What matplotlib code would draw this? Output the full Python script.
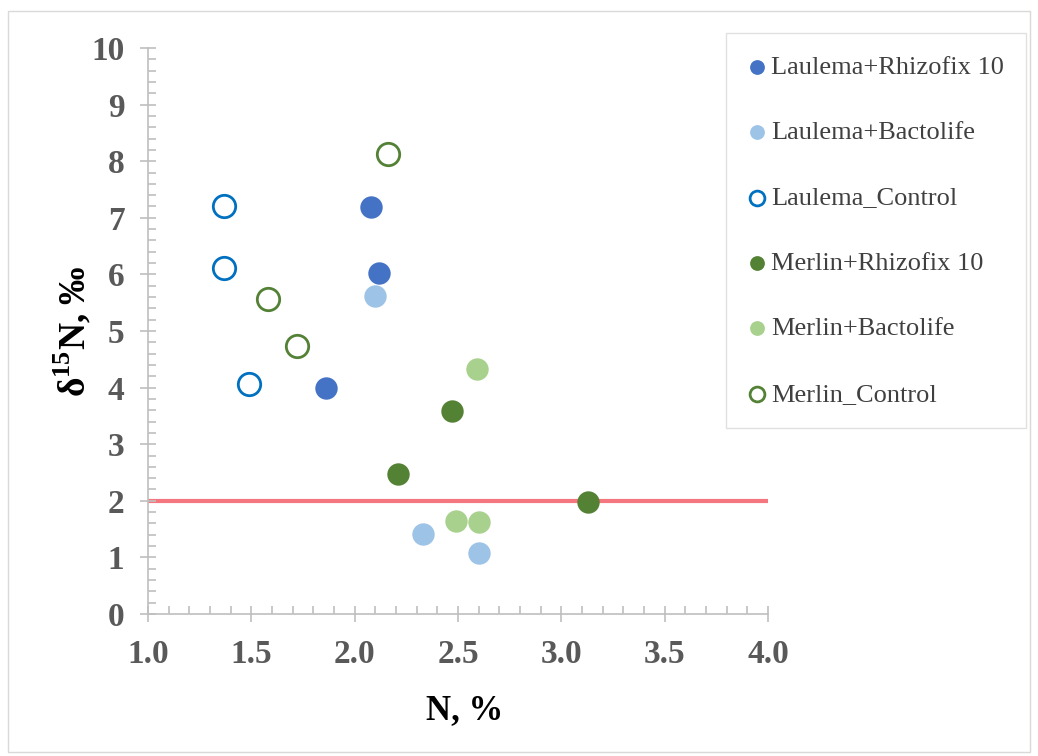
import matplotlib
matplotlib.use("Agg")
import matplotlib.pyplot as plt
from matplotlib.ticker import MultipleLocator
from matplotlib.patches import Rectangle

plt.rcParams['font.family'] = ['Liberation Serif', 'DejaVu Serif']
plt.rcParams['mathtext.fontset'] = 'custom'
plt.rcParams['mathtext.bf'] = 'Liberation Serif:bold'

# series: (label, N %, d15N, fill colour, edge colour)
labels = ["Laulema+Rhizofix 10", "Laulema+Bactolife", "Laulema_Control",
          "Merlin+Rhizofix 10", "Merlin+Bactolife", "Merlin_Control"]
x_vals = [[2.08, 2.12, 1.86],
          [2.10, 2.33, 2.60],
          [1.37, 1.37, 1.49],
          [2.47, 2.21, 3.13],
          [2.59, 2.49, 2.60],
          [2.16, 1.58, 1.72]]
y_vals = [[7.19, 6.02, 4.00],
          [5.61, 1.41, 1.08],
          [7.21, 6.12, 4.07],
          [3.58, 2.48, 1.98],
          [4.33, 1.64, 1.62],
          [8.12, 5.57, 4.74]]
faces = ["#4472C4", "#9DC3E6", "white", "#548235", "#A9D18E", "white"]
edges = ["#4472C4", "#9DC3E6", "#0070C0", "#548235", "#A9D18E", "#538135"]
threshold = 2.0

fig = plt.figure(figsize=(10.38, 7.56), dpi=100)
fig.patches.append(Rectangle((0.008, 0.005), 0.984, 0.981, transform=fig.transFigure,
                             fill=False, edgecolor="#d9d9d9", lw=1))
ax = fig.add_axes([0.1426, 0.1878, 0.5973, 0.7487])

ax.plot([1.0, 4.0], [threshold, threshold], color="#F4777F", lw=3, zorder=1)

for i in range(len(labels)):
    lw = 2.0 if faces[i] == "white" else 0
    ax.scatter(x_vals[i], y_vals[i], s=260, c=faces[i], edgecolors=edges[i],
               linewidths=lw, label=labels[i], zorder=3)

ax.set_xlim(1.0, 4.0)
ax.set_ylim(0, 10)
ax.xaxis.set_major_locator(MultipleLocator(0.5))
ax.xaxis.set_minor_locator(MultipleLocator(0.1))
ax.yaxis.set_major_locator(MultipleLocator(1))
ax.yaxis.set_minor_locator(MultipleLocator(0.2))
ax.xaxis.set_major_formatter(plt.FormatStrFormatter('%.1f'))

for s in ["top", "right"]:
    ax.spines[s].set_visible(False)
for s in ["left", "bottom"]:
    ax.spines[s].set_color("#bfbfbf")
    ax.spines[s].set_linewidth(1.2)

ax.tick_params(which="major", direction="inout", length=12, width=1.2, color="#bfbfbf",
               labelsize=24, labelcolor="#595959")
ax.tick_params(axis="x", which="major", pad=12)
ax.tick_params(axis="y", which="major", pad=11)
ax.tick_params(which="minor", direction="in", length=6, width=1.2, color="#bfbfbf")
for t in ax.get_xticklabels() + ax.get_yticklabels():
    t.set_fontweight("bold")

ax.set_xlabel("N, %", fontsize=25, fontweight="bold")
ax.xaxis.set_label_coords(0.51, -0.142)
ax.set_ylabel(r"δ$^{\mathbf{15}}$N, ‰", fontsize=27, fontweight="bold", labelpad=-2)

leg = ax.legend(loc="upper left", bbox_to_anchor=(0.933, 1.027), fontsize=19,
                frameon=True, fancybox=False, edgecolor="#d9d9d9",
                handlelength=0.58, handletextpad=0.25, labelspacing=1.59,
                borderpad=0.85, markerscale=0.66, borderaxespad=0)
leg.get_frame().set_linewidth(1.0)
for t in leg.get_texts():
    t.set_color("#404040")

fig.savefig("out.png", dpi=100)
